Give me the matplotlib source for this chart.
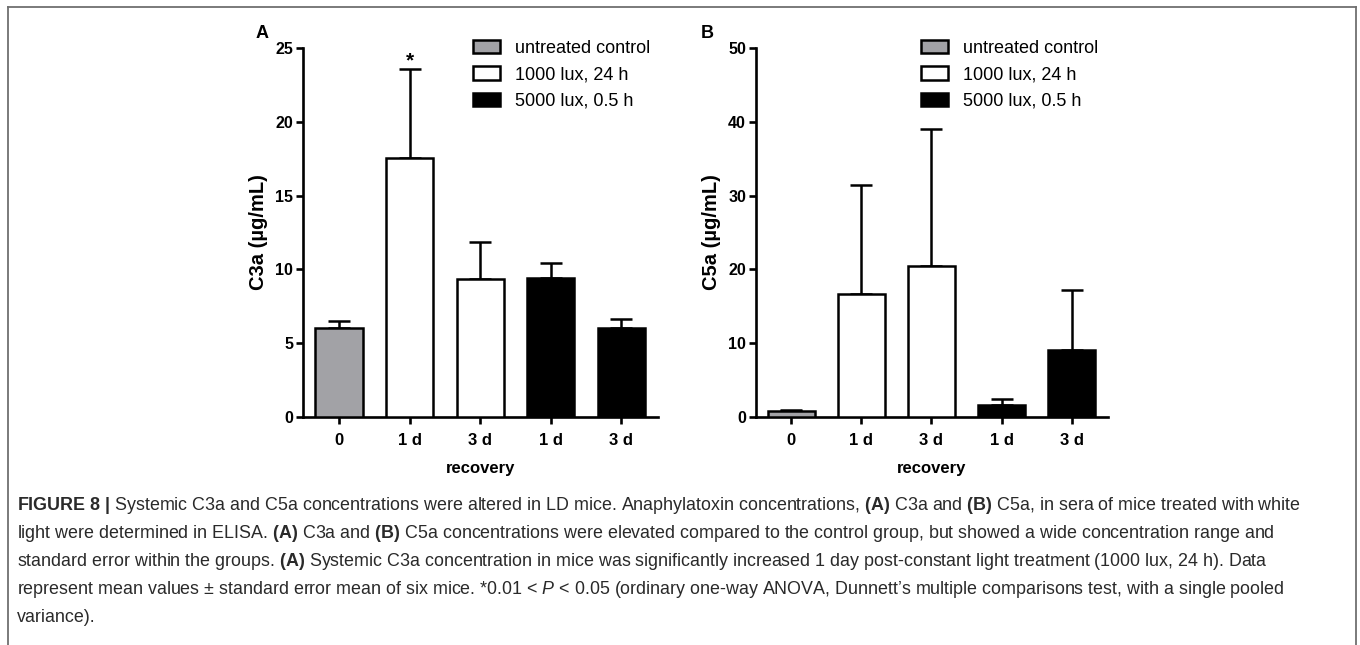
import matplotlib
matplotlib.use('Agg')
import matplotlib.pyplot as plt
from matplotlib.patches import Patch
from matplotlib.lines import Line2D

plt.rcParams['font.family'] = ['Liberation Sans', 'DejaVu Sans']
plt.rcParams['mathtext.fontset'] = 'custom'
plt.rcParams['mathtext.rm'] = 'Liberation Sans'
plt.rcParams['mathtext.bf'] = 'Liberation Sans:bold'
plt.rcParams['mathtext.it'] = 'Liberation Sans:italic'

# data
groups = ['0', '1 d', '3 d', '1 d', '3 d']
series = ['untreated control', '1000 lux, 24 h', '5000 lux, 0.5 h']
group_series = [0, 1, 1, 2, 2]
c3a_mean = [6.0, 17.55, 9.35, 9.4, 6.05]
c3a_sem = [0.5, 6.05, 2.5, 1.05, 0.55]
c5a_mean = [0.75, 16.7, 20.4, 1.6, 9.05]
c5a_sem = [0.15, 14.7, 18.7, 0.75, 8.1]

colors = ['#a2a2a6', 'white', 'black']
W, H = 1360, 645

fig = plt.figure(figsize=(W / 100, H / 100), dpi=100)


def panel(left, right, means, sems, ymax, ystep, ylabel, letter, letter_x, lx):
    ax = fig.add_axes([left / W, (H - 416.7) / H, (right - left) / W, 368.4 / H])
    x = range(len(means))
    ax.bar(x, means, width=0.67, color=[colors[s] for s in group_series],
           edgecolor='black', linewidth=1.8, zorder=3)
    ax.errorbar(x, means, yerr=[[0] * len(sems), sems], fmt='none',
                ecolor='black', elinewidth=1.8, capsize=8, capthick=1.8, zorder=2)
    ax.set_xlim(-0.51, 4.52)
    ax.set_ylim(0, ymax)
    ax.set_yticks(range(0, ymax + 1, ystep))
    ax.set_xticks(list(x))
    ax.set_xticklabels(groups)
    for s in ['top', 'right']:
        ax.spines[s].set_visible(False)
    for s in ['left', 'bottom']:
        ax.spines[s].set_linewidth(1.9)
    ax.tick_params(width=1.9, length=5)
    ax.tick_params(axis='y', labelsize=11.5, pad=2)
    ax.tick_params(axis='x', labelsize=12, pad=7)
    for t in ax.get_xticklabels() + ax.get_yticklabels():
        t.set_fontweight('bold')
    ax.set_xlabel('recovery', fontsize=12, fontweight='bold', labelpad=9)
    ax.set_ylabel(ylabel, fontsize=14.5, fontweight='bold', labelpad=5)
    handles = [Patch(facecolor=colors[i], edgecolor='black', linewidth=1.8)
               for i in range(3)]
    ax.legend(handles, series, loc='upper left',
              bbox_to_anchor=(lx / W, (H - 40) / H), bbox_transform=fig.transFigure,
              frameon=False, fontsize=13, handlelength=1.5, handleheight=0.75,
              handletextpad=0.8, labelspacing=0.52, borderpad=0, borderaxespad=0)
    fig.text(letter_x / W, (H - 33) / H, letter, fontsize=13, fontweight='bold',
             ha='center', va='center')
    return ax


axA = panel(303, 658, c3a_mean, c3a_sem, 25, 5, 'C3a (µg/mL)', 'A', 262, 473)
axA.text(1, c3a_mean[1] + c3a_sem[1] + 0.55, '*', ha='center', va='center',
         fontsize=15, fontweight='bold')
axB = panel(755.7, 1108, c5a_mean, c5a_sem, 50, 10, 'C5a (µg/mL)', 'B', 707, 921)

# frame around figure
fc = '#707070'
fig.add_artist(Line2D([8 / W, 1356 / W], [(H - 7) / H, (H - 7) / H], color=fc, lw=1.3))
fig.add_artist(Line2D([8 / W, 8 / W], [0, (H - 7) / H], color=fc, lw=1.3))
fig.add_artist(Line2D([1356 / W, 1356 / W], [0, (H - 7) / H], color=fc, lw=1.3))

caption = [
    r'$\mathbf{FIGURE\ 8\ |}$ Systemic C3a and C5a concentrations were altered in LD mice. '
    r'Anaphylatoxin concentrations, $\mathbf{(A)}$ C3a and $\mathbf{(B)}$ C5a, in sera of mice treated with white',
    r'light were determined in ELISA. $\mathbf{(A)}$ C3a and $\mathbf{(B)}$ C5a concentrations were elevated '
    r'compared to the control group, but showed a wide concentration range and',
    r'standard error within the groups. $\mathbf{(A)}$ Systemic C3a concentration in mice was significantly '
    r'increased 1 day post-constant light treatment (1000 lux, 24 h). Data',
    r'represent mean values ± standard error mean of six mice. *0.01 < $\mathit{P}$ < 0.05 '
    r'(ordinary one-way ANOVA, Dunnett’s multiple comparisons test, with a single pooled',
    'variance).',
]
for i, line in enumerate(caption):
    fig.text(17 / W, (H - 505 - 28.2 * i) / H, line, fontsize=12.9, color='#2a2a2a',
             ha='left', va='center')

fig.savefig('out.png', dpi=100)
